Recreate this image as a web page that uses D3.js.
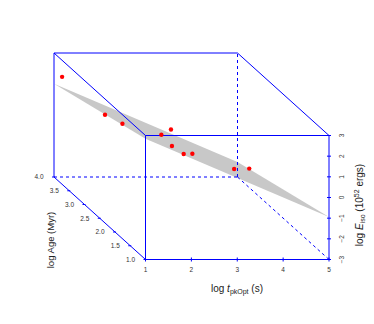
<!DOCTYPE html>
<html>
<head>
<meta charset="utf-8">
<script src="https://cdn.jsdelivr.net/npm/d3@7"></script>
<style>
  body { margin: 0; background: #fff; }
  svg { display: block; font-family: "Liberation Sans", Arial, Helvetica, sans-serif; }
</style>
</head>
<body>
<svg id="chart" width="374" height="324"></svg>
<script>
// log t_pkOpt, log Age, log E_iso for each burst
const logT = [1.11, 1.58, 1.76, 2.21, 2.22, 2.64, 2.63, 2.62, 3.93, 3.66];
const logAge = [3.9, 3.2, 2.9, 2.3, 2.0, 2.6, 2.2, 1.9, 2.5, 1.6];
const logE = [1.98, 1.08, 1.04, 1.31, 1.96, 0.36, 0.51, 0.92, -0.62, 0.60];

// fitted plane: E = a + b*t + c*age
const planeCoef = [4.23, -0.9475, -0.442];

const tTicks = [1, 2, 3, 4, 5];
const ageTicks = [1.0, 1.5, 2.0, 2.5, 3.0, 3.5, 4.0];
const eTicks = [-3, -2, -1, 0, 1, 2, 3];

const svg = d3.select('#chart');

const xS = d3.scaleLinear().domain([1, 5]).range([145.5, 329]);
const zS = d3.scaleLinear().domain([-3, 3]).range([259.5, 135.5]);
const yS = d3.scaleLinear().domain([1, 4]).range([0, 1]);
const depth = { dx: -91.5, dy: -82.5 };

const proj = (x, y, z) => [xS(x) + yS(y) * depth.dx, zS(z) + yS(y) * depth.dy];

const blue = '#0000ff';
const line = d3.line();

// plane
const plane = (x, y) => planeCoef[0] + planeCoef[1] * x + planeCoef[2] * y;
const corners = [[1, 4], [5, 4], [5, 1], [1, 1]].map(([x, y]) => proj(x, y, plane(x, y)));
svg.append('path')
    .attr('d', line(corners) + 'Z')
    .attr('fill', '#c8c8c8')
    .attr('stroke', 'none');

// box
const edges = [
    [[1, 1, 3], [5, 1, 3], false],
    [[1, 1, -3], [5, 1, -3], false],
    [[1, 1, -3], [1, 1, 3], false],
    [[5, 1, -3], [5, 1, 3], false],
    [[1, 4, 3], [5, 4, 3], false],
    [[1, 4, -3], [1, 4, 3], false],
    [[1, 4, -3], [5, 4, -3], true],
    [[5, 4, -3], [5, 4, 3], true],
    [[1, 4, 3], [1, 1, 3], false],
    [[5, 4, 3], [5, 1, 3], false],
    [[1, 4, -3], [1, 1, -3], false],
    [[5, 4, -3], [5, 1, -3], true]
];

svg.append('g').selectAll('path')
    .data(edges)
    .enter()
    .append('path')
    .attr('d', (d) => line([proj(...d[0]), proj(...d[1])]))
    .attr('fill', 'none')
    .attr('stroke', blue)
    .attr('stroke-width', 1)
    .attr('stroke-dasharray', (d) => (d[2] ? '3,3' : null));

// x axis (front bottom)
const gx = svg.append('g');
tTicks.forEach((t) => {
    const [px, py] = proj(t, 1, -3);
    gx.append('line').attr('x1', px).attr('x2', px).attr('y1', py - 2).attr('y2', py + 2)
        .attr('stroke', blue);
    gx.append('text').attr('x', px).attr('y', py + 12.5)
        .attr('text-anchor', 'middle').attr('font-size', 6.5).attr('fill', '#333')
        .text(t);
});

// age axis (bottom left diagonal)
const gy = svg.append('g');
ageTicks.forEach((a) => {
    const [px, py] = proj(1, a, -3);
    gy.append('line').attr('x1', px - 2).attr('x2', px + 1).attr('y1', py).attr('y2', py)
        .attr('stroke', blue);
    gy.append('text').attr('x', px - 15).attr('y', py + 2.3)
        .attr('text-anchor', 'middle').attr('font-size', 6.5).attr('fill', '#333')
        .text(d3.format('.1f')(a));
});

// E axis (front right)
const gz = svg.append('g');
eTicks.forEach((e) => {
    const [px, py] = proj(5, 1, e);
    gz.append('line').attr('x1', px - 2).attr('x2', px + 2).attr('y1', py).attr('y2', py)
        .attr('stroke', blue);
    gz.append('text')
        .attr('transform', `translate(${px + 14.8},${py}) rotate(-90)`)
        .attr('text-anchor', 'middle').attr('font-size', 6.5).attr('fill', '#333')
        .text(e < 0 ? '\u2212' + Math.abs(e) : e);
});

// points
svg.append('g').selectAll('circle')
    .data(logT.map((t, i) => proj(t, logAge[i], logE[i])))
    .enter()
    .append('circle')
    .attr('cx', (d) => d[0])
    .attr('cy', (d) => d[1])
    .attr('r', 2.2)
    .attr('fill', '#ff0000');

// titles
const xt = svg.append('text').attr('x', 237).attr('y', 292)
    .attr('text-anchor', 'middle').attr('font-size', 10).attr('fill', '#222');
xt.append('tspan').text('log ');
xt.append('tspan').attr('font-style', 'italic').text('t');
xt.append('tspan').attr('font-size', 7).attr('dy', 2).text('pkOpt');
xt.append('tspan').attr('dy', -2).text(' (s)');

svg.append('text')
    .attr('transform', 'translate(53.5,240) rotate(-90)')
    .attr('text-anchor', 'middle').attr('font-size', 9.5).attr('fill', '#222')
    .text('log Age (Myr)');

const zt = svg.append('text')
    .attr('transform', 'translate(363,205) rotate(-90)')
    .attr('text-anchor', 'middle').attr('font-size', 10).attr('fill', '#222');
zt.append('tspan').text('log ');
zt.append('tspan').attr('font-style', 'italic').text('E');
zt.append('tspan').attr('font-size', 7).attr('dy', 2).text('iso');
zt.append('tspan').attr('dy', -2).text(' (10');
zt.append('tspan').attr('font-size', 7).attr('dy', -4).text('52');
zt.append('tspan').attr('dy', 4).text(' ergs)');
</script>
</body>
</html>
